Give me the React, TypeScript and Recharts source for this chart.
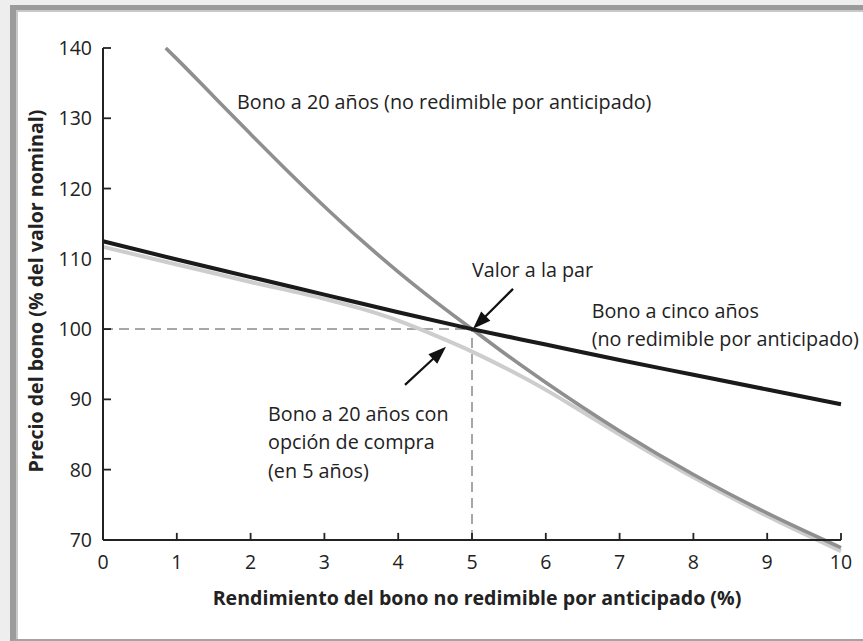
import React from 'react';
import { LineChart, Line, XAxis, YAxis, ReferenceLine, ReferenceDot } from 'recharts';

if (typeof document !== 'undefined') {
  document.body.style.margin = '0';
  document.body.style.background = '#eeeeee';
}

// ---- data ----
const xTicks = [0, 1, 2, 3, 4, 5, 6, 7, 8, 9, 10];
const yTicks = [70, 80, 90, 100, 110, 120, 130, 140];

const twentyYearYield = [0.85, 1, 1.5, 2, 2.5, 3, 3.5, 4, 4.5, 5, 5.5, 6, 7, 8, 9, 10];
const twentyYearPrice = [140, 138.45, 133.1, 127.75, 122.5, 117.45, 112.65, 108.15, 103.95, 100, 96.1, 92.4, 85.5, 79.3, 73.8, 68.9];

const fiveYearYield = [0, 1, 2, 3, 4, 5, 6, 7, 8, 9, 10];
const fiveYearPrice = [112.5, 109.9, 107.4, 104.9, 102.4, 100, 97.8, 95.6, 93.5, 91.4, 89.3];

const callableYield = [0, 1, 2, 3, 3.5, 4, 4.5, 5, 5.5, 6, 6.5, 7, 8, 9, 10];
const callablePrice = [111.7, 109.2, 106.7, 104.3, 102.9, 101.2, 99.1, 96.8, 94.2, 91.35, 88.2, 85.0, 78.9, 73.4, 68.4];

const toRows = (xs: number[], ys: number[]) => xs.map((x, i) => ({ x, y: ys[i] }));
const twentyYear = toRows(twentyYearYield, twentyYearPrice);
const fiveYear = toRows(fiveYearYield, fiveYearPrice);
const callable = toRows(callableYield, callablePrice);

const xTitle = 'Rendimiento del bono no redimible por anticipado (%)';
const yTitle = 'Precio del bono (% del valor nominal)';

// ---- layout ----
const W = 863;
const H = 641;
const FONT = '"Open Sans", sans-serif';
const M = { top: 48, right: 22, bottom: 43, left: 43 };
const XAXIS_H = 30;
const YAXIS_W = 60;
const Y_MIN = 66;
const Y_MAX = 140;
const Y_AXIS_AT = 70;
const PLOT_H = H - M.top - M.bottom - XAXIS_H;
const X_SHIFT = (PLOT_H * (Y_AXIS_AT - Y_MIN)) / (Y_MAX - Y_MIN);
const INK = '#222';
const TICK_FS = 19.5;
const NOTE_FS = 19.75;
const TITLE_FS = 19.6;

const YTick = (p: any) => {
  const { x, y, payload } = p;
  return (
    <g>
      <line x1={x} x2={x + 8} y1={y} y2={y} stroke={INK} strokeWidth={1.8} />
      <text x={x - 11} y={y} dy="0.36em" textAnchor="end" fontSize={TICK_FS} fill={INK} fontFamily={FONT}>
        {payload.value}
      </text>
    </g>
  );
};

const XTick = (p: any) => {
  const { x, y, payload } = p;
  const ay = y - X_SHIFT;
  return (
    <g>
      <line x1={x} x2={x} y1={ay} y2={ay - 7} stroke={INK} strokeWidth={1.8} />
      <text x={x} y={ay + 29} textAnchor="middle" fontSize={TICK_FS} fill={INK} fontFamily={FONT}>
        {payload.value}
      </text>
    </g>
  );
};

const Arrow = (p: any) => {
  const { x1, y1, x2, y2 } = p;
  const a = Math.atan2(y2 - y1, x2 - x1);
  const len = 18;
  const w = 6.5;
  const bx = x2 - len * Math.cos(a);
  const by = y2 - len * Math.sin(a);
  const px = -Math.sin(a) * w;
  const py = Math.cos(a) * w;
  return (
    <g>
      <line x1={x1} y1={y1} x2={bx + 2 * Math.cos(a)} y2={by + 2 * Math.sin(a)} stroke="#111" strokeWidth={2.2} />
      <polygon points={`${x2},${y2} ${bx + px},${by + py} ${bx - px},${by - py}`} fill="#111" />
    </g>
  );
};

const Note = (lines: string[]) => (p: any) => (
  <text x={p.cx} y={p.cy} fontSize={NOTE_FS} fill={INK} fontFamily={FONT}>
    {lines.map((l, i) => (
      <tspan key={i} x={p.cx} dy={i === 0 ? 0 : 28.5}>
        {l}
      </tspan>
    ))}
  </text>
);

const XTitle = () => (
  <text x={477} y={605} textAnchor="middle" fontSize={TITLE_FS} fontWeight={700} fill={INK} fontFamily={FONT}>
    {xTitle}
  </text>
);

const YTitle = () => (
  <text
    x={43}
    y={291}
    transform="rotate(-90 43 291)"
    textAnchor="middle"
    fontSize={TITLE_FS}
    fontWeight={700}
    fill={INK}
    fontFamily={FONT}
  >
    {yTitle}
  </text>
);

export default function App() {
  return (
    <div style={{ position: 'relative', width: W, height: H, background: '#eeeeee', overflow: 'hidden' }}>
      <div
        style={{
          position: 'absolute',
          left: 10,
          top: 5,
          width: W,
          height: H - 5,
          boxSizing: 'border-box',
          background: '#ffffff',
          borderLeft: '6px solid #9b9b9b',
          borderTop: '5px solid #9b9b9b',
          borderBottom: '2px solid #a3a3a3',
          boxShadow: 'inset 2px 2px 0 #c8c8c8',
        }}
      />
      <div style={{ position: 'absolute', left: 0, top: 0 }}>
        <LineChart width={W} height={H} margin={M}>
          <XAxis
            dataKey="x"
            type="number"
            domain={[0, 10]}
            ticks={xTicks}
            axisLine={false}
            tickLine={false}
            tickSize={0}
            tickMargin={0}
            height={XAXIS_H}
            tick={<XTick />}
            interval={0}
            label={{ content: <XTitle /> }}
          />
          <YAxis
            type="number"
            domain={[Y_MIN, Y_MAX]}
            ticks={yTicks}
            axisLine={false}
            tickLine={false}
            tickSize={0}
            tickMargin={0}
            width={YAXIS_W}
            tick={<YTick />}
            interval={0}
            label={{ content: <YTitle /> }}
          />
          <ReferenceLine
            segment={[{ x: 0, y: 100 }, { x: 5, y: 100 }]}
            stroke="#8a8a8a"
            strokeWidth={1.5}
            strokeDasharray="10 6"
          />
          <ReferenceLine
            segment={[{ x: 5, y: 70 }, { x: 5, y: 100 }]}
            stroke="#8a8a8a"
            strokeWidth={1.5}
            strokeDasharray="10 6"
          />
          <Line data={callable} dataKey="y" type="monotone" stroke="#cdcdcd" strokeWidth={4} dot={false} isAnimationActive={false} />
          <Line data={twentyYear} dataKey="y" type="monotone" stroke="#8f8f8f" strokeWidth={3.6} dot={false} isAnimationActive={false} />
          <Line data={fiveYear} dataKey="y" type="monotone" stroke="#1a1a1a" strokeWidth={4} dot={false} isAnimationActive={false} />
          <ReferenceLine segment={[{ x: 0, y: 70 }, { x: 0, y: 140 }]} stroke={INK} strokeWidth={2} />
          <ReferenceLine segment={[{ x: 0, y: 70 }, { x: 10, y: 70 }]} stroke={INK} strokeWidth={2} />
          <ReferenceLine segment={[{ x: 5.556, y: 105.72 }, { x: 5.014, y: 100.03 }]} shape={Arrow} />
          <ReferenceLine segment={[{ x: 4.092, y: 92.06 }, { x: 4.648, y: 97.47 }]} shape={Arrow} />
          <ReferenceDot x={1.816} y={131.39} r={0} shape={Note(['Bono a 20 años (no redimible por anticipado)'])} />
          <ReferenceDot x={5.0} y={107.43} r={0} shape={Note(['Valor a la par'])} />
          <ReferenceDot x={6.621} y={101.59} r={0} shape={Note(['Bono a cinco años', '(no redimible por anticipado)'])} />
          <ReferenceDot x={2.236} y={86.94} r={0} shape={Note(['Bono a 20 años con', 'opción de compra', '(en 5 años)'])} />
        </LineChart>
      </div>
    </div>
  );
}
